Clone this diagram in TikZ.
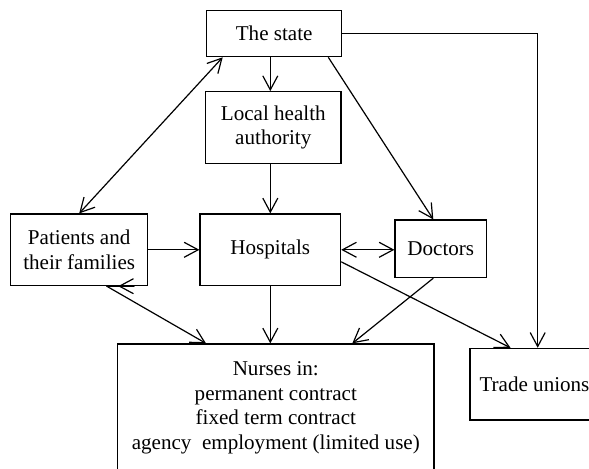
\documentclass[tikz,border=0pt]{standalone}
\usepackage{fontspec}
\setmainfont{Liberation Serif}
\usetikzlibrary{arrows.meta,calc}

\begin{document}
\begin{tikzpicture}[
    x=0.5pt, y=-0.5pt,
    box/.style={rectangle, draw, line width=0.6pt, align=center, inner sep=0pt, font=\fontsize{10.54pt}{12.25pt}\selectfont},
    arrow/.style={-{Straight Barb[length=7pt,width=7.5pt]}, line width=0.6pt},
    twoway/.style={{Straight Barb[length=7pt,width=7.5pt]}-{Straight Barb[length=7pt,width=7.5pt]}, line width=0.6pt}
]
    \useasboundingbox (0,0) rectangle (589,469);

    % Top
    \node[box, minimum width=67.5pt, minimum height=23pt] (state) at (274.2,33.7) {The state};
    \node[box, minimum width=67.6pt, minimum height=35.8pt] (authority) at (273.3,127.5) {Local health\\authority};

    % Middle row
    \node[box, minimum width=68.5pt, minimum height=35.8pt] (patients) at (79.2,249.8) {Patients and\\their families};
    \node[box, minimum width=70.3pt, minimum height=35.8pt] (hospitals) at (270.3,249.8) {Hospitals};
    \node[box, minimum width=45.8pt, minimum height=28.8pt] (doctors) at (440.8,248.8) {Doctors};

    % Bottom row
    \node[box, minimum width=158.2pt, minimum height=64pt] (nurses) at (275.8,408) {Nurses in:\\permanent contract\\fixed term contract\\agency~ employment (limited use)};
    \node[box, minimum width=64.5pt, minimum height=35.8pt] (unions) at (534.5,384.2) {Trade unions};
    \coordinate (unionstop) at ($(unions.north)+(3.2,0)$);

    % Arrows from the state
    \draw[arrow] (state.south -| hospitals) -- (authority.north -| hospitals);
    \draw[twoway] ($(state.south west)+(16.6,0)$) -- (patients.north);
    \draw[arrow] ($(state.south east)+(-14,0)$) -- ($(doctors.north)+(-7.5,0)$);
    \draw[arrow] (state.east) -- (unionstop |- state.east) -- (unionstop);

    % Arrows down the middle
    \draw[arrow] (authority.south -| hospitals) -- (hospitals);
    \draw[arrow] (hospitals) -- (hospitals |- nurses.north);

    % Arrows middle row
    \draw[arrow] (patients) -- (hospitals);
    \draw[twoway] (hospitals) -- (hospitals -| doctors.west);
    \draw[arrow] ($(hospitals.east)+(0,12)$) -- ($(unions.north)+(-24,0)$);

    % Arrows to the nurses
    \draw[twoway, line join=round] ($(nurses.north west)+(89,0)$) -- ($(patients.south)+(27.5,0)$) -- ($(patients.south)+(55,0)$) -- ($(patients.south)+(39,0)$);
    \draw[arrow] ($(doctors.south)+(-7.5,0)$) -- ($(nurses.north east)+(-82.3,0)$);
\end{tikzpicture}
\end{document}
